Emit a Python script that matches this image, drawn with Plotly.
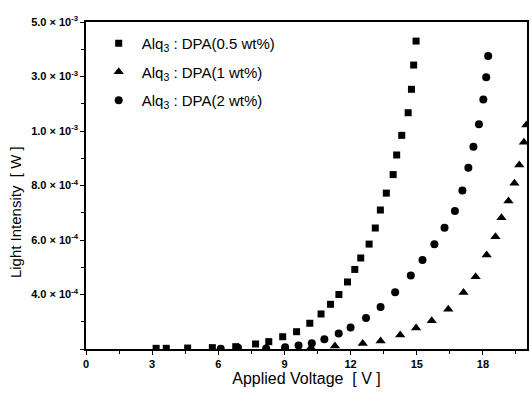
import numpy as np
import plotly.graph_objects as go

# ---- data (voltage in V, light intensity in W) ----
v_05 = [3.18, 3.64, 4.61, 5.73, 6.79, 7.69, 8.29, 8.92, 9.55, 10.15, 10.66, 11.09, 11.47,
        11.86, 12.19, 12.46, 12.84, 13.12, 13.35, 13.62, 13.93, 14.09, 14.32, 14.61, 14.76,
        14.86, 14.97]
i_05 = [5e-6, 5e-6, 7e-6, 1.0e-5, 1.7e-5, 3.7e-5, 5.4e-5, 9.0e-5, 1.27e-4, 1.89e-4,
        2.57e-4, 3.28e-4, 4.0e-4, 4.46e-4, 4.92e-4, 5.34e-4, 5.85e-4, 6.44e-4, 7.10e-4,
        7.72e-4, 8.40e-4, 9.12e-4, 9.84e-4, 1.67e-3, 2.53e-3, 3.42e-3, 4.30e-3]

v_1 = [8.17, 10.2, 11.29, 12.55, 13.36, 14.25, 14.97, 15.68, 16.43, 17.12, 17.67, 18.17,
       18.57, 18.84, 19.16, 19.43, 19.65, 19.86, 19.97]
i_1 = [2e-6, 1.0e-5, 2.2e-5, 4.0e-5, 5.9e-5, 1.03e-4, 1.54e-4, 2.08e-4, 2.91e-4, 4.07e-4,
       4.65e-4, 5.45e-4, 6.12e-4, 6.82e-4, 7.43e-4, 8.08e-4, 8.75e-4, 9.59e-4, 1.22e-3]

v_2 = [6.11, 6.89, 8.17, 9.03, 9.64, 10.24, 10.81, 11.46, 12.0, 12.70, 13.36, 14.02, 14.73,
       15.26, 15.80, 16.26, 16.73, 17.07, 17.34, 17.57, 17.82, 18.02, 18.15, 18.24]
i_2 = [2e-6, 9.6e-6, 4e-6, 1.24e-5, 2.56e-5, 4.2e-5, 7.2e-5, 1.14e-4, 1.58e-4, 2.28e-4,
       3.08e-4, 4.08e-4, 4.70e-4, 5.27e-4, 5.84e-4, 6.45e-4, 7.06e-4, 7.82e-4, 8.65e-4,
       9.42e-4, 1.25e-3, 2.16e-3, 2.97e-3, 3.75e-3]

x_ticks = [0, 3, 6, 9, 12, 15, 18]
y_tick_values = [0, 4e-4, 6e-4, 8e-4, 1e-3, 3e-3, 5e-3]
y_tick_labels = ["", "4.0 × 10<sup>-4</sup>", "6.0 × 10<sup>-4</sup>", "8.0 × 10<sup>-4</sup>",
                 "1.0 × 10<sup>-3</sup>", "3.0 × 10<sup>-3</sup>", "5.0 × 10<sup>-3</sup>"]
names = ["Alq<sub>3</sub> : DPA(0.5 wt%)", "Alq<sub>3</sub> : DPA(1 wt%)",
         "Alq<sub>3</sub> : DPA(2 wt%)"]

# the original axis is piecewise linear between its labelled ticks
pos = list(range(len(y_tick_values)))
def scale(vals):
    return np.interp(vals, y_tick_values, pos)

FONT = "Liberation Sans, Arial, sans-serif"
fig = go.Figure()
series = [(v_05, i_05, "square", 7), (v_1, i_1, "triangle-up", 9), (v_2, i_2, "circle", 8)]
for k, (vx, vy, sym, sz) in enumerate(series):
    fig.add_trace(go.Scatter(
        x=vx, y=scale(vy), mode="markers", name=names[k], legendgroup=str(k),
        marker=dict(symbol=sym, size=sz, color="black", line=dict(width=0)),
    ))

fig.update_layout(
    width=532, height=394,
    margin=dict(l=86, r=3, t=22, b=45),
    paper_bgcolor="white", plot_bgcolor="white",
    font=dict(family=FONT, color="black"),
    showlegend=True,
    legend=dict(x=0.022, y=0.985, xanchor="left", yanchor="top",
                bgcolor="rgba(0,0,0,0)", font=dict(size=15, family=FONT),
                tracegroupgap=6, itemwidth=36),
)
fig.update_xaxes(
    range=[0, 20], tickvals=x_ticks, ticks="outside", ticklen=4, tickwidth=1.2,
    tickcolor="black", showline=True, linecolor="black", linewidth=1.5, mirror=True,
    showgrid=False, zeroline=False,
    tickfont=dict(size=11, family=FONT, weight="bold"),
    minor=dict(dtick=1.5, tick0=0, ticks="outside", ticklen=3, tickcolor="black"),
    title=dict(text="Applied Voltage  [ V ]", font=dict(size=16, family=FONT), standoff=0),
)
fig.update_yaxes(
    range=[0, 6], tickvals=pos, ticktext=y_tick_labels, ticks="outside", ticklen=4,
    tickwidth=1.2, tickcolor="black", showline=True, linecolor="black", linewidth=1.5,
    mirror=True, showgrid=False, zeroline=False,
    tickfont=dict(size=11, family=FONT, weight="bold"),
    minor=dict(dtick=0.5, tick0=0, ticks="outside", ticklen=3, tickcolor="black"),
)
fig.add_annotation(text="Light Intensity  [ W ]", textangle=-90, xref="paper", yref="paper",
                   x=-0.16, y=0.42, xanchor="center", yanchor="middle", showarrow=False,
                   font=dict(size=15, family=FONT))

fig.write_html("out.html")
